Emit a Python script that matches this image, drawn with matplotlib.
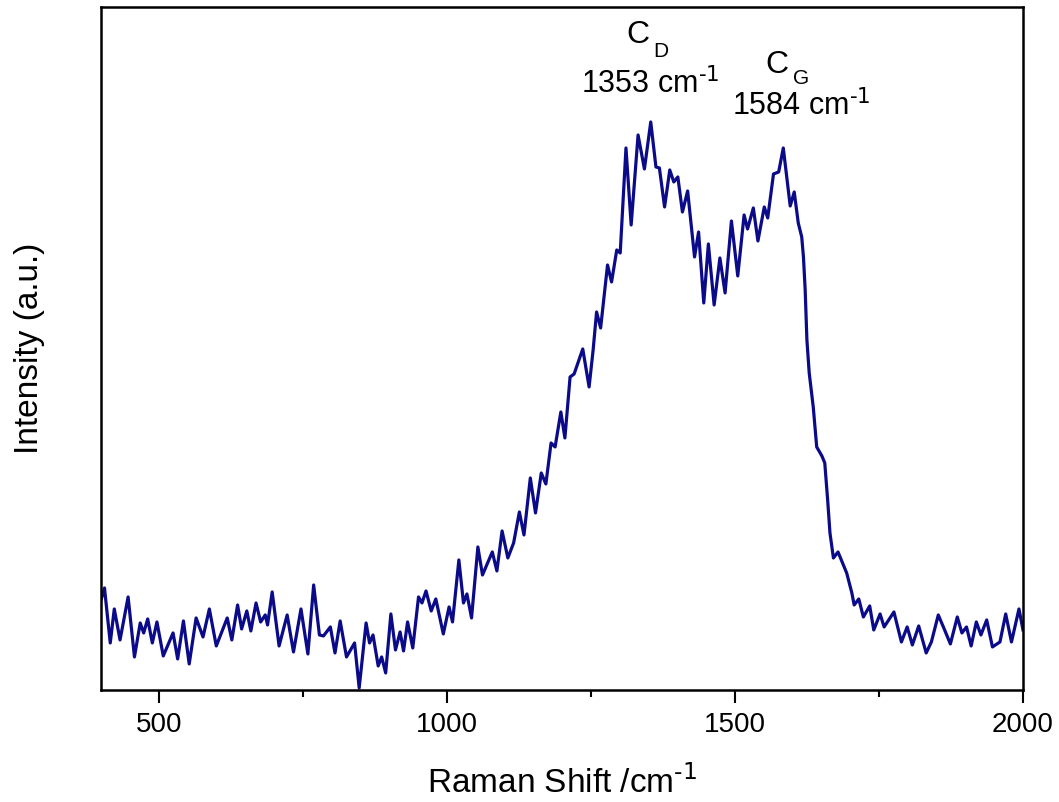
import numpy as np
import matplotlib
matplotlib.use("Agg")
import matplotlib.pyplot as plt

# Raman spectrum (a.u.)
shift = [400, 406, 416, 423, 433, 447, 458, 468, 474, 481,
         489, 497, 508, 525, 533, 543, 553, 565, 577, 588,
         600, 619, 627, 637, 644, 653, 660, 669, 677, 685,
         689, 697, 709, 723, 734, 747, 759, 769, 779, 786,
         798, 806, 815, 826, 840, 848, 860, 866, 872, 881,
         887, 894, 903, 911, 919, 925, 932, 941, 951, 957,
         964, 973, 981, 994, 1004, 1010, 1021, 1029, 1035, 1043,
         1054, 1062, 1079, 1087, 1096, 1106, 1116, 1126, 1134, 1145,
         1154, 1164, 1172, 1181, 1188, 1198, 1205, 1214, 1221, 1236,
         1247, 1254, 1260, 1267, 1279, 1286, 1295, 1301, 1311, 1320,
         1332, 1343, 1354, 1363, 1369, 1378, 1387, 1394, 1401, 1409,
         1418, 1430, 1437, 1446, 1454, 1464, 1474, 1483, 1494, 1505,
         1516, 1522, 1532, 1540, 1551, 1557, 1567, 1576, 1584, 1596,
         1603, 1610, 1616, 1619, 1622, 1625, 1629, 1636, 1642, 1651,
         1656, 1661, 1665, 1671, 1679, 1694, 1703, 1707, 1715, 1723,
         1734, 1741, 1752, 1759, 1776, 1789, 1799, 1808, 1819, 1832,
         1841, 1853, 1864, 1874, 1886, 1894, 1902, 1910, 1919, 1927,
         1937, 1947, 1960, 1970, 1980, 1993, 2000]

intensity = [90, 102, 47, 81, 50, 93, 33, 67, 57, 71,
             47, 68, 34, 57, 31, 69, 26, 72, 53, 81,
             44, 72, 50, 85, 61, 79, 59, 87, 68, 75,
             65, 98, 44, 75, 38, 81, 36, 105, 55, 54,
             63, 37, 69, 33, 47, 2, 67, 47, 55, 24,
             33, 17, 76, 40, 58, 39, 68, 42, 93, 87,
             99, 79, 91, 56, 83, 68, 130, 87, 96, 72,
             143, 115, 138, 119, 159, 132, 147, 178, 155, 212,
             177, 217, 206, 247, 243, 278, 252, 313, 316, 341,
             303, 340, 378, 362, 425, 408, 440, 437, 542, 465,
             555, 521, 568, 523, 522, 483, 520, 508, 513, 478,
             499, 433, 458, 387, 446, 385, 432, 397, 469, 414,
             475, 461, 482, 449, 483, 472, 516, 518, 542, 484,
             498, 467, 453, 433, 400, 350, 317, 283, 243, 234,
             227, 190, 157, 132, 138, 117, 97, 85, 91, 73,
             84, 60, 76, 63, 78, 48, 63, 45, 64, 37,
             48, 75, 60, 46, 73, 57, 63, 44, 68, 55,
             70, 43, 48, 76, 48, 81, 60]

x_ticks = [500, 1000, 1500, 2000]
minor_ticks = [750, 1250, 1750]

# peak labels
peak_subs = ["D", "G"]
peak_pos = ["1353 cm$^{\\text{-1}}$", "1584 cm$^{\\text{-1}}$"]

plt.rcParams['font.family'] = ['Liberation Sans', 'DejaVu Sans']
plt.rcParams['mathtext.default'] = 'regular'

fig = plt.figure(figsize=(10.59, 8.02), dpi=100)
ax = fig.add_axes([0.0954, 0.1397, 0.8706, 0.8516])

ax.plot(shift, intensity, color='#0b0b8a', lw=2.3, solid_joinstyle='round')

ax.set_xlim(400, 2000)
ax.set_ylim(0, 683)
ax.set_xticks(x_ticks)
ax.set_xticks(minor_ticks, minor=True)
ax.set_yticks([])
ax.tick_params(axis='x', which='major', direction='out', length=9, width=1.5,
               labelsize=20, pad=7)
ax.tick_params(axis='x', which='minor', direction='out', length=5, width=1.5)
for s in ax.spines.values():
    s.set_linewidth(1.8)

ax.set_xlabel("Raman Shift /cm$^{\\text{-1}}$", fontsize=24, labelpad=20)
ax.set_ylabel("Intensity (a.u.)", fontsize=24, labelpad=40)

# annotations: C with a lowered subscript, then the position
ax.text(1331, 647, "C", fontsize=23, ha='center', va='baseline')
ax.text(1359, 633, peak_subs[0], fontsize=15, ha='left', va='baseline')
ax.text(1353, 597, peak_pos[0], fontsize=22, ha='center', va='baseline')

ax.text(1573, 617, "C", fontsize=23, ha='center', va='baseline')
ax.text(1601, 606, peak_subs[1], fontsize=15, ha='left', va='baseline')
ax.text(1615, 575, peak_pos[1], fontsize=22, ha='center', va='baseline')

fig.savefig("out.png", dpi=100)
